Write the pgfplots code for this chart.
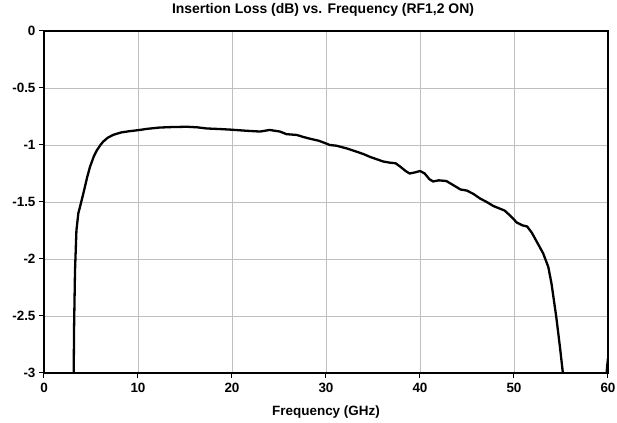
\documentclass[border=0pt]{standalone}
\usepackage{pgfplots}
\pgfplotsset{compat=1.18}
\usepackage{fontspec}
\setmainfont{Liberation Sans}
\begin{document}
\begin{tikzpicture}
\useasboundingbox (-44bp,-50bp) rectangle (573bp,373bp);
\begin{axis}[
 at={(0,0)}, anchor=south west,
 scale only axis, width=564bp, height=342bp,
 xmin=0, xmax=60, ymin=-3, ymax=0,
 xtick={0,10,20,30,40,50,60},
 ytick={-3,-2.5,-2,-1.5,-1,-0.5,0},
 xticklabels={0,10,20,30,40,50,60},
 yticklabels={-3,-2.5,-2,-1.5,-1,-0.5,0},
 grid=major,
 major grid style={color=black!25, line width=0.8bp},
 axis line style={line width=1.3bp},
 tick align=outside, tick pos=left, major tick length=5bp,
 tick style={black, line width=1bp},
 ticklabel style={font=\bfseries\fontsize{13.5}{13.5}\selectfont},
 xticklabel style={yshift=-2bp},
 xlabel={Frequency (GHz)},
 xlabel style={font=\bfseries\fontsize{13.5}{13.5}\selectfont, at={(0.5,0)}, anchor=base, yshift=-42bp},
 title={Insertion Loss (dB) vs. Frequency (RF1,2 ON)},
 title style={font=\bfseries\fontsize{14}{14}\selectfont, at={(0.5,1)}, anchor=base, xshift=-3bp, yshift=12bp},
]
\addplot[black, line width=2.3bp] coordinates {
(3.15,-3.1)(3.2,-2.6)(3.3,-2.1)(3.45,-1.75)(3.65,-1.6)(3.9,-1.52)(4.2,-1.42)(4.6,-1.28)(4.9,-1.19)(5.3,-1.1)(5.6,-1.05)(6.0,-1.0)(6.3,-0.97)(6.8,-0.935)(7.4,-0.91)(8.2,-0.89)(9,-0.88)(10,-0.87)(11,-0.858)(12.3,-0.847)(13.5,-0.843)(15.2,-0.84)(16.3,-0.845)(17.3,-0.855)(18.7,-0.86)(20,-0.866)(21.5,-0.875)(23,-0.882)(24,-0.868)(25.1,-0.882)(25.8,-0.905)(26.9,-0.912)(27.6,-0.93)(28.3,-0.945)(29.2,-0.962)(29.8,-0.98)(30.4,-1.0)(31.1,-1.006)(32.2,-1.03)(33.3,-1.06)(34.0,-1.08)(34.7,-1.105)(35.4,-1.125)(36.1,-1.145)(36.8,-1.155)(37.4,-1.16)(37.9,-1.19)(38.5,-1.23)(38.9,-1.25)(39.5,-1.24)(40.0,-1.228)(40.5,-1.25)(41.0,-1.3)(41.4,-1.32)(42,-1.31)(42.8,-1.316)(43.5,-1.35)(44.3,-1.39)(45.0,-1.40)(45.7,-1.43)(46.4,-1.47)(47.1,-1.5)(47.8,-1.535)(48.4,-1.555)(49.0,-1.575)(49.6,-1.62)(50.3,-1.68)(50.9,-1.705)(51.4,-1.715)(51.9,-1.77)(52.5,-1.86)(53.1,-1.95)(53.65,-2.07)(54.0,-2.22)(54.5,-2.51)(54.9,-2.78)(55.2,-3.0)(55.3,-3.1)
};
\addplot[black, line width=2.3bp] coordinates {
(59.75,-3.1)(59.9,-2.95)(60,-2.87)
};
\end{axis}
\end{tikzpicture}
\end{document}
